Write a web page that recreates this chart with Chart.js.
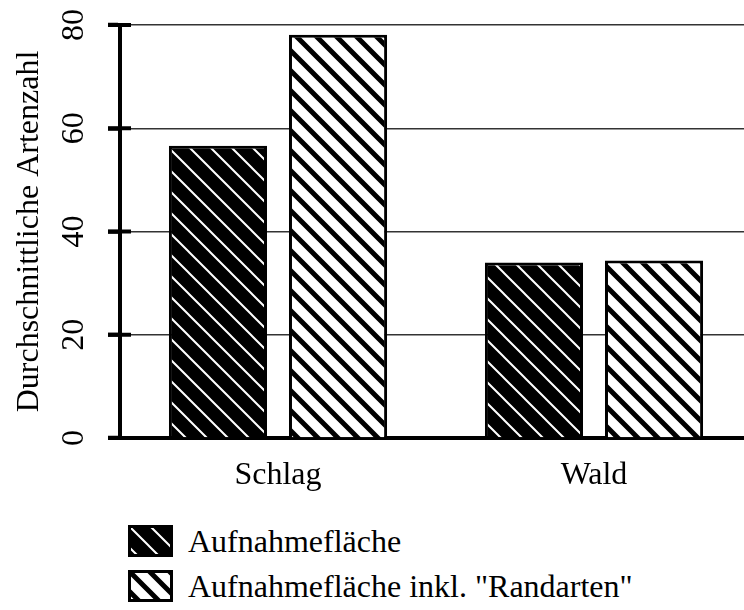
<!DOCTYPE html>
<html>
<head>
<meta charset="utf-8">
<script src="https://cdn.jsdelivr.net/npm/chart.js@4.4.0/dist/chart.umd.min.js"></script>
<style>
  html, body { margin: 0; padding: 0; overflow: hidden; background: #fff; }
  #wrap { position: relative; width: 744px; height: 610px; overflow: hidden; }
  #chart-box { position: absolute; left: 0; top: 0; width: 752px; height: 500px; }
  .leg { position: absolute; left: 128px; font: 32px 'Liberation Serif', 'Times New Roman', serif; line-height: 32px; color: #000; white-space: nowrap; }
  .leg canvas { position: absolute; left: 0; top: 0; }
  .leg span { position: absolute; left: 60px; top: 0; }
</style>
</head>
<body>
<div id="wrap">
  <div id="chart-box"><canvas id="chart"></canvas></div>
  <div class="leg" id="leg1" style="top:525px"><canvas width="45" height="32"></canvas><span></span></div>
  <div class="leg" id="leg2" style="top:570px"><canvas width="45" height="32"></canvas><span></span></div>
</div>
<script>
// data
const categories = ['Schlag', 'Wald'];
const seriesNames = ['Aufnahmefläche', 'Aufnahmefläche inkl. "Randarten"'];
const aufnahme = [56.6, 34.0];
const randarten = [78.1, 34.4];
const yTicks = [0, 20, 40, 60, 80];

const serif = "'Liberation Serif', 'Times New Roman', serif";

// diagonal hatch "\" pattern, lines run past the tile so the seams close
function hatch(ctx, bg, fg, lw, size) {
  const c = document.createElement('canvas');
  c.width = c.height = size;
  const x = c.getContext('2d');
  x.fillStyle = bg;
  x.fillRect(0, 0, size, size);
  x.strokeStyle = fg;
  x.lineWidth = lw;
  x.beginPath();
  for (const k of [-size, 0, size]) {
    x.moveTo(k - size, -size);
    x.lineTo(k + 2 * size, 2 * size);
  }
  x.stroke();
  return ctx.createPattern(c, 'repeat');
}

const ctx = document.getElementById('chart').getContext('2d');
const darkFill = hatch(ctx, '#000', '#fff', 2, 21);
const lightFill = hatch(ctx, '#fff', '#000', 5, 20);

// short tick stubs to the right of the y axis
const tickStubs = {
  id: 'tickStubs',
  afterDraw(chart) {
    const y = chart.scales.y;
    const c = chart.ctx;
    c.save();
    c.strokeStyle = '#000';
    c.lineWidth = 4;
    yTicks.forEach(v => {
      const py = y.getPixelForValue(v);
      c.beginPath();
      c.moveTo(y.right - 12, py);
      c.lineTo(y.right + 11, py);
      c.stroke();
    });
    c.restore();
  }
};

new Chart(ctx, {
  type: 'bar',
  data: {
    labels: categories,
    datasets: [
      {
        label: seriesNames[0],
        data: aufnahme,
        backgroundColor: darkFill,
        borderColor: '#000',
        borderWidth: 3,
        barPercentage: 0.817,
        categoryPercentage: 0.76
      },
      {
        label: seriesNames[1],
        data: randarten,
        backgroundColor: lightFill,
        borderColor: '#000',
        borderWidth: 3,
        barPercentage: 0.817,
        categoryPercentage: 0.76
      }
    ]
  },
  options: {
    responsive: true,
    maintainAspectRatio: false,
    animation: false,
    layout: { padding: { top: 25, right: 0, left: 0, bottom: 0 } },
    plugins: {
      legend: { display: false },
      tooltip: { enabled: false }
    },
    scales: {
      x: {
        grid: { display: false, drawTicks: false },
        border: { display: true, color: '#000', width: 4 },
        ticks: {
          color: '#000',
          padding: 18,
          font: { family: serif, size: 32 }
        },
        afterFit(s) { s.height = 62; }
      },
      y: {
        min: 0,
        max: 80,
        afterBuildTicks(s) { s.ticks = yTicks.map(v => ({ value: v })); },
        grid: {
          color: '#333',
          lineWidth: 1.5,
          tickLength: 12,
          tickWidth: 4,
          tickColor: '#000'
        },
        border: { display: true, color: '#000', width: 4 },
        ticks: {
          color: '#000',
          minRotation: 90,
          maxRotation: 90,
          crossAlign: 'center',
          padding: 17,
          font: { family: serif, size: 32 }
        },
        title: {
          display: true,
          text: 'Durchschnittliche Artenzahl',
          color: '#000',
          padding: { top: 10, bottom: 0 },
          font: { family: serif, size: 32 }
        },
        afterFit(s) {
          s.width = 120;
          s.paddingTop = 0;
          s.paddingBottom = 0;
        }
      }
    }
  },
  plugins: [tickStubs]
});

// legend swatches with the same fills
[['leg1', darkFill, 0], ['leg2', lightFill, 1]].forEach(([id, fill, i]) => {
  const el = document.getElementById(id);
  const cv = el.querySelector('canvas');
  const g = cv.getContext('2d');
  g.fillStyle = fill;
  g.fillRect(0, 0, cv.width, cv.height);
  g.strokeStyle = '#000';
  g.lineWidth = 3;
  g.strokeRect(1.5, 1.5, cv.width - 3, cv.height - 3);
  el.querySelector('span').textContent = seriesNames[i];
});
</script>
</body>
</html>
